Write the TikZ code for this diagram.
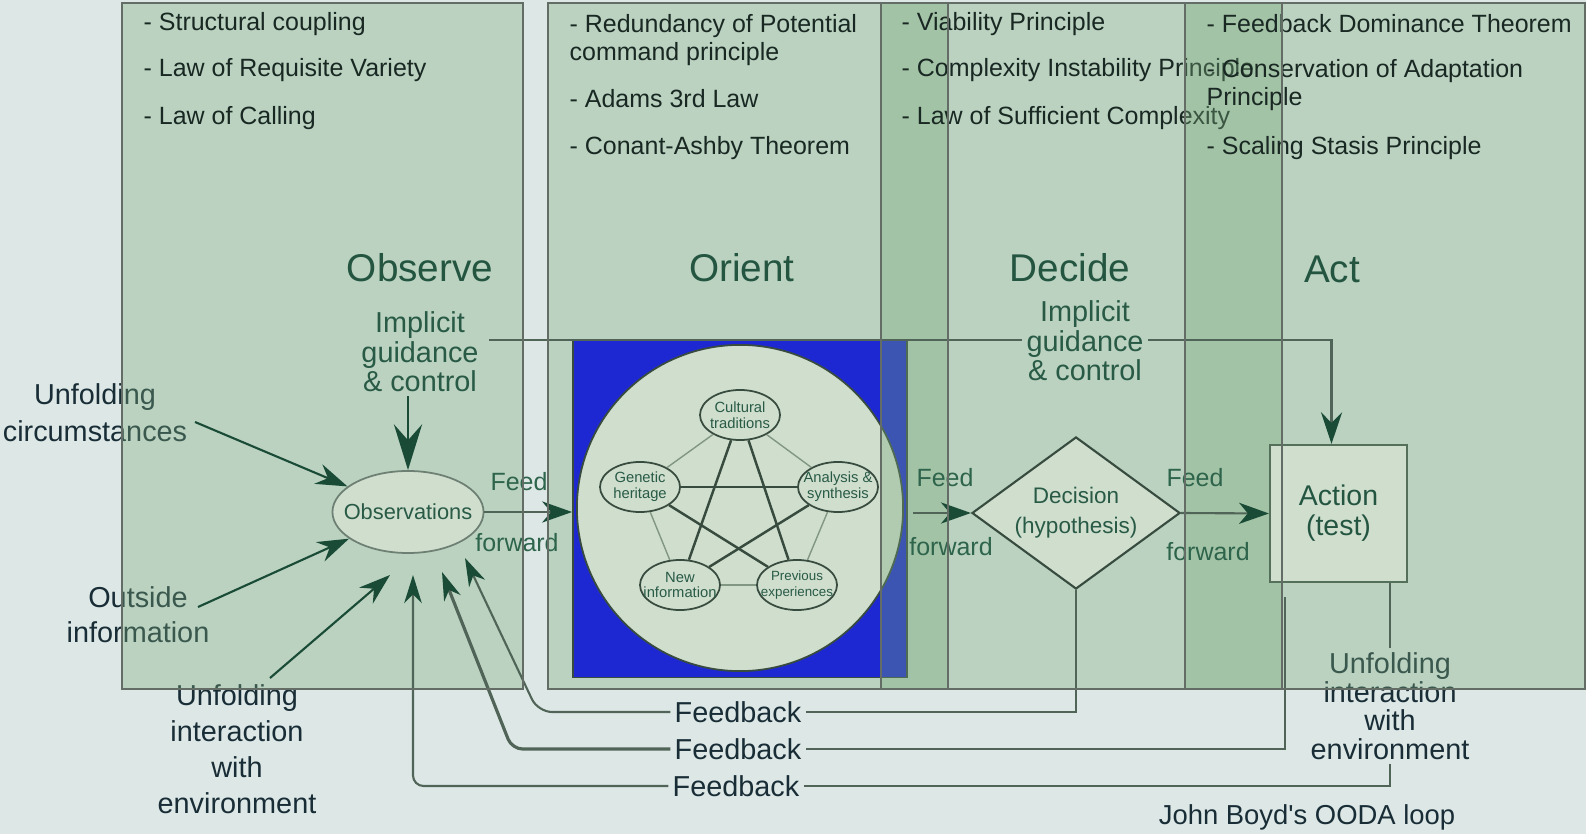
\documentclass[tikz,border=0pt]{standalone}
\usepackage{fontspec}
\setmainfont{Liberation Sans}
\usetikzlibrary{shapes.geometric, arrows.meta}
\definecolor{bgc}{RGB}{221,232,230}
\definecolor{panelc}{RGB}{121,169,121}
\definecolor{bordc}{RGB}{100,108,102}
\definecolor{bluec}{RGB}{30,40,210}
\definecolor{lightc}{RGB}{208,222,206}
\definecolor{titlec}{RGB}{35,85,65}
\definecolor{itemc}{RGB}{25,40,35}
\definecolor{labc}{RGB}{40,90,70}
\definecolor{darkc}{RGB}{25,45,55}
\definecolor{arrc}{RGB}{25,75,55}
\definecolor{linec}{RGB}{80,100,88}
\definecolor{ffc}{RGB}{45,100,75}
\definecolor{facetc}{RGB}{55,75,62}
\definecolor{thinc}{RGB}{130,150,132}
\definecolor{obsc}{RGB}{110,128,115}
\definecolor{actc}{RGB}{85,112,90}
\begin{document}
\begin{tikzpicture}[x=0.01cm, y=-0.01cm,
  panel/.style={fill=panelc, fill opacity=0.35},
  panelframe/.style={draw=bordc, line width=0.55pt},
  itemtext/.style={anchor=west, align=left, inner sep=0pt, text=itemc, font=\fontsize{7.1}{8}\selectfont},
  phase/.style={text=titlec, font=\fontsize{11}{13}\selectfont},
  inputtext/.style={align=center, inner sep=1pt, text=darkc},
  guide/.style={align=center, inner sep=1pt, text=labc, font=\fontsize{8.2}{8.4}\selectfont},
  fftext/.style={text=ffc, font=\fontsize{7.1}{8}\selectfont},
  fbtext/.style={inner sep=1pt, text=darkc, font=\fontsize{8.2}{9}\selectfont},
  facet/.style={ellipse, draw=facetc, line width=0.5pt, fill=lightc, minimum width=0.8cm, minimum height=0.5cm, inner xsep=-2.5pt, inner ysep=0pt, align=center, text=labc, font=\fontsize{4.2}{4.5}\selectfont},
  conn/.style={draw=linec, line width=0.6pt},
  fwd/.style={conn, -{Stealth[length=8.5pt, width=6pt, inset=2.5pt, color=arrc]}},
  inarr/.style={draw=arrc, line width=0.6pt, -{Stealth[length=9pt, width=6pt, inset=3pt]}},
  fbarr/.style={conn, -{Stealth[length=8pt, width=5pt, inset=2.5pt, color=arrc]}},
  gdbig/.style={draw=arrc, line width=0.8pt, -{Stealth[length=13pt, width=8pt, inset=4.5pt]}},
  gdarr/.style={conn, -{Stealth[length=9pt, width=6pt, inset=3pt, color=arrc]}}
]
\useasboundingbox (0,0) rectangle (1586,834);
\fill [bgc] (0,0) rectangle (1586,834);

\node (circ) [inputtext, font=\fontsize{8.2}{10.5}\selectfont] at (95,413) {Unfolding\\circumstances};
\node (outs) [inputtext, font=\fontsize{8.2}{10}\selectfont] at (138,615) {Outside\\information};
\node (unfl) [inputtext, font=\fontsize{8.2}{10.2}\selectfont] at (237,749) {Unfolding\\interaction\\with\\environment};

\fill [panel] (122,3) rectangle (523,689);
\fill [panel] (548,3) rectangle (948,689);

\node (obox) [rectangle, draw=facetc, line width=0.5pt, fill=bluec, minimum width=3.34cm, minimum height=3.38cm, inner sep=0pt] at (740,508.5) {};
\node (orc) [circle, draw=facetc, line width=0.5pt, fill=lightc, minimum size=3.26cm, inner sep=0pt] at (740,508) {};
\node (cult) [facet] at (740,415) {Cultural\\traditions};
\node (gene) [facet] at (640,487) {Genetic\\heritage};
\node (anal) [facet] at (838,487) {Analysis \&\\synthesis};
\node (newi) [facet] at (680,585) {New\\information};
\node (prev) [facet, font=\fontsize{3.8}{4.3}\selectfont] at (797,585) {Previous\\experiences};
\foreach \a/\b in {cult/gene, cult/anal, gene/newi, anal/prev, newi/prev}
  \draw [draw=thinc, line width=0.4pt] (\a) -- (\b);
\foreach \a/\b in {cult/newi, cult/prev, gene/anal, gene/prev, anal/newi}
  \draw [draw=facetc, line width=0.7pt] (\a) -- (\b);

\fill [panel] (881,3) rectangle (1282,689);
\foreach \y/\t [count=\i] in {24/{- Viability Principle}, 70/{- Complexity Instability Principle}, 118/{- Law of Sufficient Complexity}}
  \node (decitem\i) [itemtext] at (901,\y) {\t};
\node (envr) [inputtext, font=\fontsize{8.2}{8.1}\selectfont] at (1390,706) {Unfolding\\interaction\\with\\environment};

\fill [panel] (1185,3) rectangle (1585,689);

\foreach \y/\t [count=\i] in {24/{- Structural coupling}, 70/{- Law of Requisite Variety}, 118/{- Law of Calling}}
  \node (obsitem\i) [itemtext] at (143,\y) {\t};
\foreach \y/\t [count=\i] in {40/{- Redundancy of Potential\\command principle}, 99/{- Adams 3rd Law}, 148/{- Conant-Ashby Theorem}}
  \node (oriitem\i) [itemtext] at (569,\y) {\t};
\foreach \y/\t [count=\i] in {24/{- Feedback Dominance Theorem}, 85/{- Conservation of Adaptation\\Principle}, 148/{- Scaling Stasis Principle}}
  \node (actitem\i) [itemtext] at (1206,\y) {\t};

\node (tobs) [phase] at (420,268) {Observe};
\node (tori) [phase] at (742,268) {Orient};
\node (tdec) [phase] at (1070,268) {Decide};
\node (tact) [phase] at (1332,269) {Act};

\node (obs) [ellipse, draw=obsc, line width=0.5pt, fill=lightc, minimum width=1.51cm, minimum height=0.82cm, inner xsep=-4pt, inner ysep=0pt, text=labc, font=\fontsize{6.2}{7}\selectfont] at (408,512) {Observations};
\node (gd1) [guide] at (420,352) {Implicit\\guidance\\\& control};
\node (gd2) [guide] at (1085,341) {Implicit\\guidance\\\& control};
\node (dec) [diamond, aspect=1.37, draw=facetc, line width=0.6pt, fill=lightc, minimum width=2.08cm, minimum height=1.52cm, inner sep=0pt, align=center, text=labc, font=\fontsize{6.4}{8.5}\selectfont] at (1076,513) {Decision\\(hypothesis)};
\node (act) [rectangle, draw=actc, line width=0.6pt, fill=lightc, minimum width=1.37cm, minimum height=1.37cm, align=center, text=titlec, font=\fontsize{8.1}{8.5}\selectfont] at (1338.5,513.5) {Action\\(test)};

\node (feed1) [fftext] at (519,482) {Feed};
\node (fwd1) [fftext] at (517,543) {forward};
\node (feed2) [fftext] at (945,478) {Feed};
\node (fwd2) [fftext] at (951,547) {forward};
\node (feed3) [fftext] at (1195,478) {Feed};
\node (fwd3) [fftext] at (1208,552) {forward};

\node (fb1) [fbtext] at (738,712) {Feedback};
\node (fb2) [fbtext] at (738,749) {Feedback};
\node (fb3) [fbtext] at (736,786) {Feedback};
\node (boyd) [text=darkc, font=\fontsize{7.8}{9}\selectfont] at (1307,817) {John Boyd\textquotesingle s OODA loop};

\coordinate (circ-from) at (195,422);
\coordinate (outs-from) at (198,607);
\coordinate (unfl-from) at (270,678);
\coordinate (unfl-to) at (390,575);
\coordinate (gd-from) at (489,340);
\coordinate (fb1-bend) at (538,712);
\coordinate (fb1-to) at (465,558);
\coordinate (fb2-from) at (1285,597);
\coordinate (fb2-bend) at (512,749);
\coordinate (fb2-to) at (442,572);
\coordinate (fb3-to) at (413,575);

\draw [inarr] (circ-from) -- (obs);
\draw [inarr] (outs-from) -- (obs);
\draw [inarr] (unfl-from) -- (unfl-to);
\draw [gdbig] (gd1.south -| obs.north) -- (obs.north);
\draw [conn] (gd-from) -- (gd-from -| gd2.west);
\draw [gdarr] (gd-from -| gd2.east) -| ([xshift=-0.07cm]act.north);

\draw [fwd] (obs.east) -- (obs.east -| obox.west);
\draw [fwd, shorten <=0.09cm] (orc.east |- dec.west) -- (dec.west);
\draw [fwd] (dec.east) -- (act.west);

\draw [conn] (dec.south) |- (fb1.east);
\draw [fbarr, rounded corners=4pt] (fb1.west) -- (fb1-bend) -- (fb1-to);
\draw [conn] (fb2-from) |- (fb2.east);
\draw [fbarr, line width=0.9pt, rounded corners=3pt] (fb2.west) -- (fb2-bend) -- (fb2-to);
\draw [conn] (act.south -| envr.north) -- (envr.north);
\draw [conn] (envr.south) |- (fb3.east);
\draw [fbarr, rounded corners=3pt] (fb3.west) -| (fb3-to);

\draw [panelframe] (122,3) rectangle (523,689);
\draw [panelframe] (548,3) rectangle (948,689);
\draw [panelframe] (881,3) rectangle (1282,689);
\draw [panelframe] (1185,3) rectangle (1585,689);
\end{tikzpicture}
\end{document}
